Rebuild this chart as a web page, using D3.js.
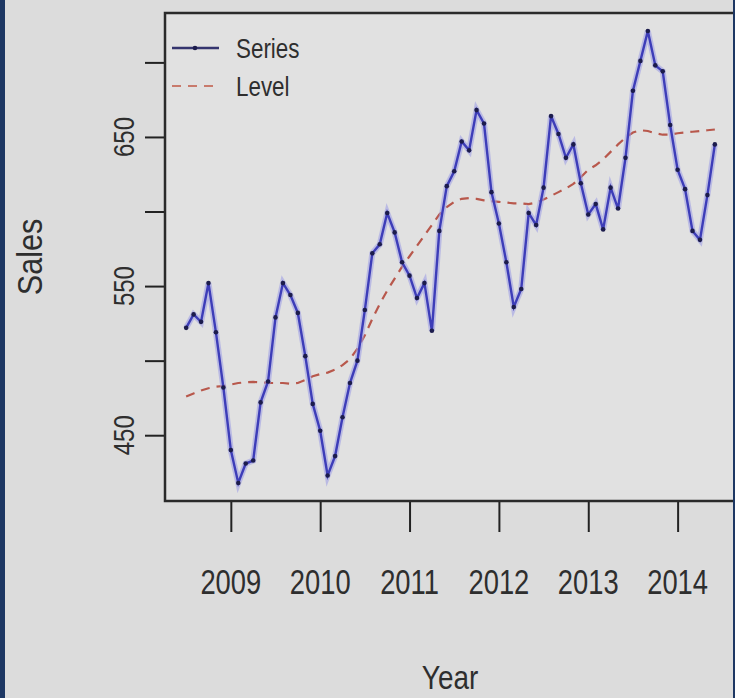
<!DOCTYPE html>
<html>
<head>
<meta charset="utf-8">
<script src="https://cdn.jsdelivr.net/npm/d3@7/dist/d3.min.js"></script>
<style>
  html, body { margin: 0; padding: 0; background: #dedede; }
  svg { display: block; }
</style>
</head>
<body>
<svg id="chart" width="735" height="698"></svg>
<script>
// ---- data (monthly, July 2008 .. June 2014) ----
const startYear = 2008.5;
const seriesValues = [
  522, 531, 526, 552, 519, 482, 440, 418, 431, 433, 472, 486,
  529, 552, 544, 532, 503, 471, 453, 423, 436, 462, 485, 500,
  534, 572, 578, 599, 586, 566, 557, 542, 552, 520, 587, 617,
  627, 647, 641, 668, 659, 613, 592, 566, 536, 548, 599, 591,
  616, 664, 652, 636, 645, 619, 598, 605, 588, 616, 602, 636,
  681, 701, 721, 698, 694, 658, 628, 615, 587, 581, 611, 645
];
const levelValues = [
  476, 478, 480, 481.5, 482.5, 483, 484, 485, 485.5, 485.7, 485.5, 485,
  485, 485, 484.5, 485, 487, 489.5, 491, 492, 494, 497, 501, 508,
  517, 528, 538, 547, 555, 563, 570, 577, 584, 591, 598, 603,
  606.5, 608.5, 609, 608.5, 607.5, 607, 606.5, 606, 605.5, 605.5, 605, 606,
  608, 610.5, 613, 615.5, 618.5, 623, 628, 631, 635, 640, 645, 649.5,
  653, 654.5, 654, 652.5, 651.5, 651.5, 652.5, 653, 653.5, 654, 654.5, 655
];
const xTickYears = [2009, 2010, 2011, 2012, 2013, 2014];
const yTicks = [450, 500, 550, 600, 650, 700];
const yTickLabels = [450, 550, 650];
const legendLabels = ["Series", "Level"];
const xTitle = "Year";
const yTitle = "Sales";

// ---- build ----
const times = seriesValues.map((_, i) => startYear + i / 12);
const series = times.map((t, i) => ({ t, v: seriesValues[i] }));
const level = times.map((t, i) => ({ t, v: levelValues[i] }));

const svg = d3.select("#chart");
const W = 735, H = 698;
const plot = { left: 165, right: 736, top: 13, bottom: 501 };

function pad(ext) { const d = ext[1] - ext[0]; return [ext[0] - 0.04 * d, ext[1] + 0.04 * d]; }
const x = d3.scaleLinear().domain(pad(d3.extent(times))).range([plot.left, plot.right]);
const y = d3.scaleLinear().domain(pad(d3.extent(seriesValues.concat(levelValues)))).range([plot.bottom, plot.top]);

// background
svg.append("rect").attr("width", W).attr("height", H).attr("fill", "#dcdcdc");
svg.append("rect").attr("x", plot.left).attr("y", plot.top)
  .attr("width", plot.right - plot.left).attr("height", plot.bottom - plot.top)
  .attr("fill", "#e1e1e1");

const font = "'Liberation Sans', Arial, Helvetica, sans-serif";
const textColor = "#2e2e2e";

// axes (tick marks)
const yAxis = svg.append("g").attr("transform", `translate(${plot.left},0)`)
  .call(d3.axisLeft(y).tickValues(yTicks).tickSize(20).tickFormat(""));
yAxis.select(".domain").remove();
yAxis.selectAll("line").attr("stroke", "#222").attr("stroke-width", 2);

const xAxis = svg.append("g").attr("transform", `translate(0,${plot.bottom})`)
  .call(d3.axisBottom(x).tickValues(xTickYears).tickSize(31).tickFormat(""));
xAxis.select(".domain").remove();
xAxis.selectAll("line").attr("stroke", "#222").attr("stroke-width", 2);

// tick labels
svg.append("g").selectAll("text").data(yTickLabels).join("text")
  .attr("transform", d => `translate(124,${y(d)}) rotate(-90) scale(0.8,1)`)
  .attr("text-anchor", "middle").attr("dominant-baseline", "central")
  .attr("font-family", font).attr("font-size", 30).attr("fill", textColor)
  .text(d => d);

svg.append("g").selectAll("text").data(xTickYears).join("text")
  .attr("transform", d => `translate(${x(d)},582) scale(0.76,1)`)
  .attr("text-anchor", "middle").attr("dominant-baseline", "central")
  .attr("font-family", font).attr("font-size", 36).attr("fill", textColor)
  .text(d => d);

// axis titles
svg.append("text")
  .attr("transform", `translate(30,257) rotate(-90) scale(0.85,1)`)
  .attr("text-anchor", "middle").attr("dominant-baseline", "central")
  .attr("font-family", font).attr("font-size", 36).attr("fill", textColor)
  .text(yTitle);
svg.append("text")
  .attr("transform", `translate(450,678) scale(0.82,1)`)
  .attr("text-anchor", "middle").attr("dominant-baseline", "central")
  .attr("font-family", font).attr("font-size", 34).attr("fill", textColor)
  .text(xTitle);

// lines
const line = d3.line().x(d => x(d.t)).y(d => y(d.v));
svg.append("path").datum(level).attr("d", line)
  .attr("fill", "none").attr("stroke", "#b8584c").attr("stroke-width", 2.2)
  .attr("stroke-dasharray", "9,7");
svg.append("path").datum(series).attr("d", line)
  .attr("fill", "none").attr("stroke", "#9a9ae6").attr("stroke-width", 6).attr("stroke-opacity", 0.55);
svg.append("path").datum(series).attr("d", line)
  .attr("fill", "none").attr("stroke", "#3d3db8").attr("stroke-width", 2.4);
svg.append("g").selectAll("circle").data(series).join("circle")
  .attr("cx", d => x(d.t)).attr("cy", d => y(d.v)).attr("r", 2.3)
  .attr("fill", "#1c1c4c");

// plot box
svg.append("rect").attr("x", plot.left).attr("y", plot.top)
  .attr("width", plot.right - plot.left).attr("height", plot.bottom - plot.top)
  .attr("fill", "none").attr("stroke", "#2a2a2a").attr("stroke-width", 2.5);

// legend
const lg = svg.append("g");
lg.append("line").attr("x1", 172).attr("x2", 219).attr("y1", 48).attr("y2", 48)
  .attr("stroke", "#34346e").attr("stroke-width", 2.5);
lg.append("circle").attr("cx", 195).attr("cy", 48).attr("r", 2.3).attr("fill", "#1c1c4c");
lg.append("line").attr("x1", 172).attr("x2", 219).attr("y1", 86).attr("y2", 86)
  .attr("stroke", "#c87a6c").attr("stroke-width", 2.2).attr("stroke-dasharray", "9,7");
lg.selectAll("text").data(legendLabels).join("text")
  .attr("transform", (d, i) => `translate(236,${48 + i * 38}) scale(0.8,1)`)
  .attr("dominant-baseline", "central")
  .attr("font-family", font).attr("font-size", 28).attr("fill", textColor)
  .text(d => d);

// frame strips
svg.append("rect").attr("x", 0).attr("y", 0).attr("width", 5).attr("height", H).attr("fill", "#1d3763");
svg.append("rect").attr("x", W - 2).attr("y", 0).attr("width", 2).attr("height", H).attr("fill", "#1d3763");
</script>
</body>
</html>
